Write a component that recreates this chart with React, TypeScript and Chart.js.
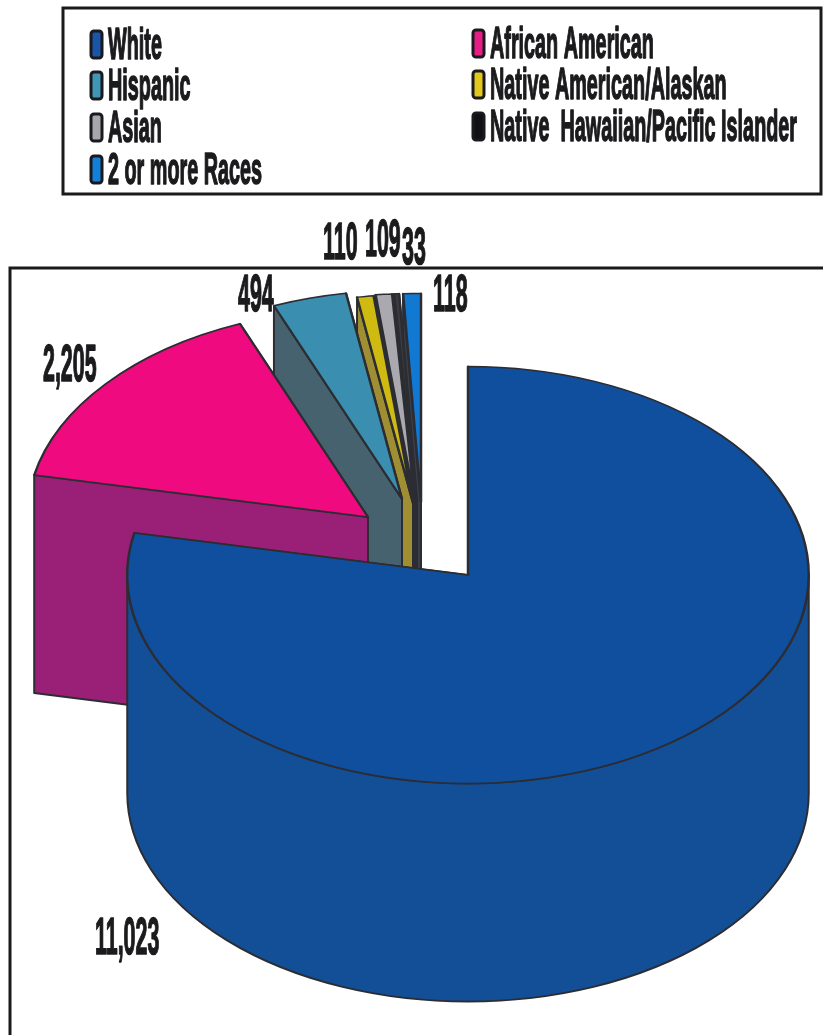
import React, { useEffect, useRef } from "react";
import { Chart, registerables } from "chart.js";

Chart.register(...registerables);

const categories = ["White", "African American", "Hispanic", "Native American/Alaskan", "Asian", "Native  Hawaiian/Pacific Islander", "2 or more Races"];
const values = [11023, 2205, 494, 110, 109, 33, 118];
const topColors = ["#0f4f9e", "#ef0a80", "#3a8fb1", "#cfba12", "#a9a9af", "#3b3b40", "#1279d2"];
const wallColors = ["#134f96", "#9a1f77", "#47626f", "#a08e32", "#55555b", "#333338", "#3a3f48"];
const swatchColors = ["#1a55a8", "#e81c85", "#3f97b5", "#e0c91c", "#a8a8ac", "#111114", "#1280d8"];

// Explosion of each slice on screen, and the squashed 3-D look of the pie
const explodeX = [0, -100, -66, -55, -53, -51, -47];
const explodeY = [0, -58, -76, -72, -73, -73, -73];
const squash = 0.612;
const depth = 218;

// Label anchors: left edge, baseline, for the value labels
const labelX = [95, 43, 238, 323, 365, 402, 433];
const labelY = [954, 381, 311, 259, 256, 264, 311];
// Legend rows (left col first, filled row by row)
const legendColX = [90, 472];
const legendRowY = [59, 100, 142, 184];
const ink = "#1b1b1d";

function drawText(ctx: CanvasRenderingContext2D, text: string, x: number, y: number, size: number, sx: number) {
  ctx.save();
  ctx.translate(x, y);
  ctx.scale(sx, 1);
  ctx.font = `bold ${size}px "Liberation Sans"`;
  ctx.fillStyle = ink;
  ctx.strokeStyle = ink;
  ctx.lineWidth = 1.6;
  ctx.lineJoin = "round";
  ctx.textAlign = "left";
  ctx.textBaseline = "alphabetic";
  ctx.fillText(text, 0, 0);
  ctx.strokeText(text, 0, 0);
  ctx.restore();
}

const pie3d = {
  id: "pie3d",
  beforeDraw(chart: any) {
    const ctx = chart.ctx as CanvasRenderingContext2D;
    ctx.save();
    ctx.fillStyle = "#ffffff";
    ctx.fillRect(0, 0, chart.width, chart.height);
    ctx.strokeStyle = "#1a1a1a";
    ctx.lineWidth = 3;
    ctx.strokeRect(63, 8, 758, 186);
    ctx.strokeRect(10, 268, 830, 800);
    ctx.restore();
  },
  beforeDatasetDraw(chart: any) {
    const ctx = chart.ctx as CanvasRenderingContext2D;
    const arcs = chart.getDatasetMeta(0).data;
    for (let i = arcs.length - 1; i >= 0; i--) {
      const el = arcs[i];
      const cx = el.x + explodeX[i];
      const cy = el.y + explodeY[i];
      const r = el.outerRadius;
      const px = (a: number) => cx + Math.cos(a) * r;
      const py = (a: number) => cy + Math.sin(a) * r * squash;
      ctx.save();
      ctx.fillStyle = wallColors[i];
      ctx.strokeStyle = "#2c2d33";
      ctx.lineWidth = 2;
      ctx.lineJoin = "round";
      for (const a of [el.endAngle, el.startAngle]) {
        ctx.beginPath();
        ctx.moveTo(cx, cy);
        ctx.lineTo(px(a), py(a));
        ctx.lineTo(px(a), py(a) + depth);
        ctx.lineTo(cx, cy + depth);
        ctx.closePath();
        ctx.fill();
        ctx.stroke();
      }
      const from = Math.max(el.startAngle, 0);
      const to = Math.min(el.endAngle, Math.PI);
      if (to > from) {
        ctx.beginPath();
        ctx.ellipse(cx, cy, r, r * squash, 0, from, to);
        ctx.ellipse(cx, cy + depth, r, r * squash, 0, to, from, true);
        ctx.closePath();
        ctx.fill();
        ctx.stroke();
      }
      ctx.restore();

      ctx.save();
      ctx.translate(cx, cy);
      ctx.scale(1, squash);
      ctx.translate(-el.x, -el.y);
      el.draw(ctx);
      ctx.restore();
    }
    return false;
  },
  afterDraw(chart: any) {
    const ctx = chart.ctx as CanvasRenderingContext2D;
    values.forEach((v, i) => {
      drawText(ctx, v.toLocaleString("en-US"), labelX[i], labelY[i], 51, 0.42);
    });
    categories.forEach((name, i) => {
      const col = i % 2;
      const row = i === 6 ? 3 : Math.floor(i / 2);
      const x = legendColX[col];
      const y = legendRowY[row] - (col === 1 ? 1 : 0);
      ctx.save();
      ctx.beginPath();
      ctx.roundRect(x + 1, y - 28, 11, 27, 3);
      ctx.fillStyle = swatchColors[i];
      ctx.fill();
      ctx.strokeStyle = "#1a1a1e";
      ctx.lineWidth = 3;
      ctx.stroke();
      ctx.restore();
      drawText(ctx, name, x + 18, y, 44, 0.45);
    });
  },
};

export default function App() {
  const ref = useRef<HTMLCanvasElement>(null);
  useEffect(() => {
    document.body.style.margin = "0";
    const chart = new Chart(ref.current!, {
      type: "pie",
      data: {
        labels: categories,
        datasets: [{ data: values, backgroundColor: topColors, borderColor: "#2c2d33", borderWidth: 2.5, borderJoinStyle: "round" }],
      },
      options: {
        responsive: false,
        animation: false,
        devicePixelRatio: 1,
        layout: { padding: { left: 126, right: 13, top: 233, bottom: 118 } },
        plugins: { legend: { display: false }, tooltip: { enabled: false } },
      },
      plugins: [pie3d],
    } as any);
    return () => chart.destroy();
  }, []);
  return <canvas ref={ref} width={823} height={1035} style={{ display: "block", filter: "blur(0.5px)" }} />;
}
